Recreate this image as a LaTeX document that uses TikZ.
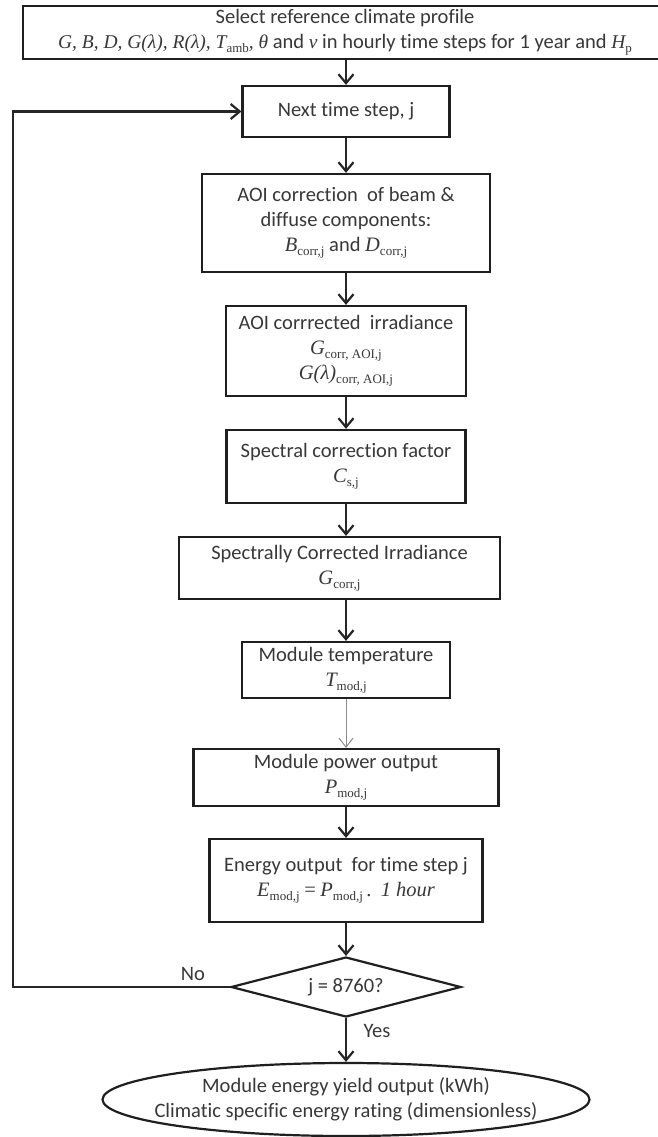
\documentclass[tikz,border=0pt]{standalone}
\usepackage{fontspec}
\setmainfont{Carlito}[Ligatures={NoCommon}]
\newfontfamily\tms{Liberation Serif}
\usetikzlibrary{shapes.geometric,arrows.meta}
\newcommand\mv[1]{{\tms\itshape #1}}
\newcommand\sbs[1]{\raisebox{-0.45ex}{\tms\fontsize{13}{13}\selectfont #1}}
\begin{document}
\begin{tikzpicture}[x=1pt,y=-1pt,
  txt/.style={text=black!78, font=\fontsize{20.5}{25}\selectfont},
  pbox/.style={txt, draw=black!88, line width=2.2pt, rectangle, align=center, inner sep=0pt},
  arr/.style={draw=black!85, line width=2.2pt, -{Straight Barb[length=9pt,width=15pt]}},
  thinarr/.style={draw=black!45, line width=1pt, -{Straight Barb[length=9pt,width=14pt]}},
]
\useasboundingbox (0,0) rectangle (657,1137);
\fill[white] (0,0) rectangle (657,1137);

\node[pbox, minimum width=644pt, minimum height=53pt] (top) at (345,32.5) {Select reference climate profile\\ {\fontsize{19.5}{25}\selectfont\mv{G, B, D, G(λ), R(λ), T}}\sbs{amb}{\fontsize{19.5}{25}\selectfont\mv{, θ}} and {\fontsize{19.5}{25}\selectfont\mv{ν}} in hourly time steps for 1 year and {\fontsize{19.5}{25}\selectfont\mv{H}}\sbs{p}};
\node[pbox, minimum width=207pt, minimum height=51pt] (next) at (346,111.5) {Next time step, j};
\node[pbox, minimum width=288pt, minimum height=98pt] (aoi) at (346,223) {AOI correction\ \ of beam \&\\ diffuse components:\\ \mv{B}\sbs{corr,j} and \mv{D}\sbs{corr,j}};
\node[pbox, minimum width=240pt, minimum height=90pt] (aoic) at (346,351) {AOI corrrected\ \ irradiance\\ \mv{G}\sbs{corr, AOI,j}\\ \mv{G(λ)}\sbs{corr, AOI,j}};
\node[pbox, minimum width=239pt, minimum height=73pt] (scf) at (346,466.5) {Spectral correction factor\\ \mv{C}\sbs{s,j}};
\node[pbox, minimum width=321pt, minimum height=62pt] (sci) at (339.5,568) {Spectrally Corrected Irradiance\\ \mv{G}\sbs{corr,j}};
\node[pbox, minimum width=208pt, minimum height=56pt] (mt) at (346,670) {Module temperature\\ \mv{T}\sbs{mod,j}};
\node[pbox, minimum width=305pt, minimum height=57pt] (mp) at (346,777.5) {Module power output\\ \mv{P}\sbs{mod,j}};
\node[pbox, minimum width=273pt, minimum height=83pt] (en) at (346,880.5) {Energy output\ \ for time step j\\ \mv{E}\sbs{mod,j} {\tms =} \mv{P}\sbs{mod,j}{\tms\,.}\ \ \mv{1 hour}};
\node[txt, draw=black!88, line width=2.2pt, diamond, aspect=3.83, minimum width=230pt, minimum height=60pt, inner sep=0pt] (dia) at (346,987) {j = 8760?};
\node[txt, draw=black!88, line width=2.2pt, ellipse, align=center, minimum width=487pt, minimum height=73pt, inner xsep=-22pt, inner ysep=0pt] (ell) at (346,1099.5) {Module energy yield output (kWh)\\ Climatic specific energy rating (dimensionless)};

\node[txt] (no) at (193,974) {No};
\node[txt] (yes) at (377,1031) {Yes};

\draw[arr] (top.south -| next.north) -- (next.north);
\draw[arr] (next.south) -- (aoi.north);
\draw[arr] (aoi.south) -- (aoic.north);
\draw[arr] (aoic.south) -- (scf.north);
\draw[arr] (scf.south) -- (scf.south |- sci.north);
\draw[arr] (mt.north |- sci.south) -- (mt.north);
\draw[thinarr] (mt.south) -- (mp.north);
\draw[arr] (mp.south) -- (en.north);
\draw[arr] (en.south) -- (dia.north);
\draw[arr] (dia.south) -- (ell.north);
\coordinate (lp) at (13,111.5);
\draw[arr] (dia.west) -| (lp) -- (next.west);
\end{tikzpicture}
\end{document}
